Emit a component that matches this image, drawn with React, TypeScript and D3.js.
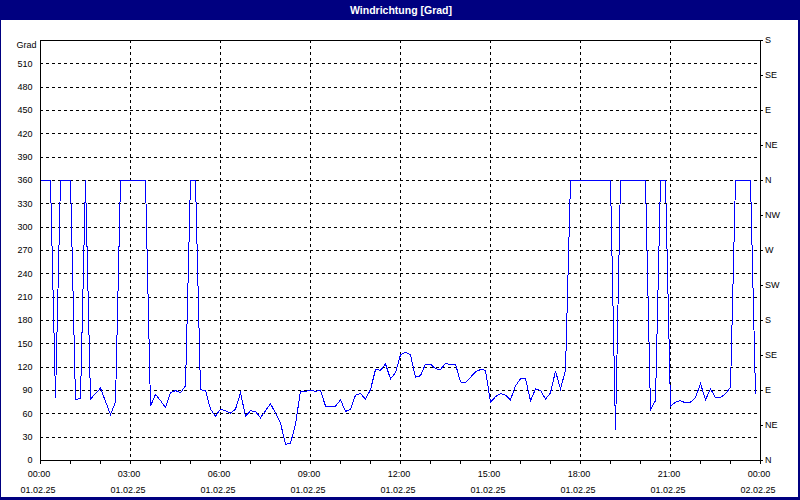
import React from "react";
import * as d3 from "d3";

// Wind direction [deg], 10-minute samples starting 01.02.25 00:00
const windValues: number[] = [
  360, 360, 360, 81, 360, 360, 360, 78, 80, 360,
  79, 86, 93, 76, 59, 75, 360, 360, 360, 360,
  360, 360, 70, 85, 77, 68, 87, 90, 87, 96,
  360, 360, 91, 90, 66, 57, 66, 64, 61, 66,
  87, 57, 64, 63, 55, 64, 73, 61, 48, 21,
  22, 47, 89, 89, 90, 89, 90, 70, 70, 70,
  78, 63, 66, 84, 86, 79, 91, 117, 116, 124,
  105, 113, 136, 139, 136, 107, 109, 124, 124, 118,
  117, 125, 123, 124, 101, 100, 107, 114, 117, 116,
  75, 82, 86, 84, 78, 96, 105, 105, 77, 92,
  90, 79, 87, 115, 92, 116, 360, 360, 360, 360,
  360, 360, 360, 360, 360, 39, 360, 360, 360, 360,
  360, 360, 65, 77, 360, 360, 70, 75, 77, 74,
  75, 81, 99, 78, 92, 81, 81, 86, 94, 360,
  360, 360, 360, 86,
];

const leftTicks: number[] = [0, 30, 60, 90, 120, 150, 180, 210, 240, 270, 300, 330, 360, 390, 420, 450, 480, 510];
const rightTickValues: number[] = [0, 45, 90, 135, 180, 225, 270, 315, 360, 405, 450, 495, 540];
const rightTickLabels: string[] = ["N", "NE", "E", "SE", "S", "SW", "W", "NW", "N", "NE", "E", "SE", "S"];
const xTimeLabels: string[] = ["00:00", "03:00", "06:00", "09:00", "12:00", "15:00", "18:00", "21:00", "00:00"];
const xDateLabels: string[] = ["01.02.25", "01.02.25", "01.02.25", "01.02.25", "01.02.25", "01.02.25", "01.02.25", "01.02.25", "02.02.25"];

const title = "Windrichtung [Grad]";
const yUnit = "Grad";

export default function App() {
  const W = 800, H = 500;
  const L = 40, R = 760, T = 40, B = 460;
  const start = new Date(2025, 1, 1, 0, 0);
  const end = new Date(2025, 1, 2, 0, 0);
  const x = d3.scaleTime().domain([start, end]).range([L, R]);
  const y = d3.scaleLinear().domain([0, 540]).range([B, T]);

  const data = windValues.map((v, i) => ({ t: new Date(start.getTime() + i * 10 * 60000), v }));
  const line = d3.line<{ t: Date; v: number }>().x((d) => x(d.t) + 0.5).y((d) => y(d.v) + 0.5);

  const majorTimes = xTimeLabels.map((_, i) => new Date(start.getTime() + i * 3 * 3600000));
  const hourTicks = d3.timeHour.range(start, d3.timeHour.offset(end, 1));

  const font = "'Liberation Sans', Arial, sans-serif";

  return (
    <svg width={W} height={H} style={{ position: "absolute", left: 0, top: 0 }} fontFamily={font}>
      <rect x={0} y={0} width={W} height={H} fill="#000080" />
      <rect x={1} y={20} width={797} height={477} fill="#ffffff" />
      <text x={401} y={14} textAnchor="middle" fill="#ffffff" fontWeight="bold" fontSize={10.5}>
        {title}
      </text>

      {/* horizontal grid */}
      {leftTicks.filter((t) => t > 0).map((t) => (
        <line key={"h" + t} x1={L} x2={R} y1={y(t) + 0.5} y2={y(t) + 0.5} stroke="#000" strokeDasharray="3,3" shapeRendering="crispEdges" />
      ))}
      {/* vertical grid */}
      {majorTimes.slice(1, -1).map((t, i) => (
        <line key={"v" + i} x1={x(t) + 0.5} x2={x(t) + 0.5} y1={T} y2={B} stroke="#000" strokeDasharray="3,3" shapeRendering="crispEdges" />
      ))}

      {/* data line */}
      <path d={line(data) || ""} fill="none" stroke="#0000ff" strokeWidth={1} shapeRendering="crispEdges" />

      {/* frame / axes */}
      <line x1={L + 0.5} x2={L + 0.5} y1={T} y2={B + 1} stroke="#000" shapeRendering="crispEdges" />
      <line x1={R + 0.5} x2={R + 0.5} y1={T} y2={B + 1} stroke="#000" shapeRendering="crispEdges" />
      <line x1={L} x2={R + 1} y1={T + 0.5} y2={T + 0.5} stroke="#000" shapeRendering="crispEdges" />
      <line x1={L} x2={R + 1} y1={B + 0.5} y2={B + 0.5} stroke="#000" shapeRendering="crispEdges" />

      {/* bottom hour ticks */}
      {hourTicks.map((t, i) => (
        <line key={"bt" + i} x1={x(t) + 0.5} x2={x(t) + 0.5} y1={B} y2={B + 4} stroke="#000" shapeRendering="crispEdges" />
      ))}
      {/* right ticks */}
      {rightTickValues.map((v, i) => (
        <line key={"rt" + i} x1={R} x2={R + 3} y1={y(v) + 0.5} y2={y(v) + 0.5} stroke="#000" shapeRendering="crispEdges" />
      ))}

      {/* left labels */}
      <text x={36.5} y={48} textAnchor="end" fontSize={9} fill="#000">{yUnit}</text>
      {leftTicks.map((t) => (
        <text key={"ll" + t} x={32.5} y={y(t) + 3.3} textAnchor="end" fontSize={9} fill="#000">{t}</text>
      ))}
      {/* right labels */}
      {rightTickValues.map((v, i) => (
        <text key={"rl" + i} x={765} y={y(v) + 3.3} textAnchor="start" fontSize={9} fill="#000">{rightTickLabels[i]}</text>
      ))}
      {/* bottom labels */}
      {majorTimes.map((t, i) => (
        <g key={"bl" + i}>
          <text x={x(t) - 1} y={477} textAnchor="middle" fontSize={9} fill="#000">{xTimeLabels[i]}</text>
          <text x={x(t) - 2} y={492.5} textAnchor="middle" fontSize={9} fill="#000">{xDateLabels[i]}</text>
        </g>
      ))}
    </svg>
  );
}
